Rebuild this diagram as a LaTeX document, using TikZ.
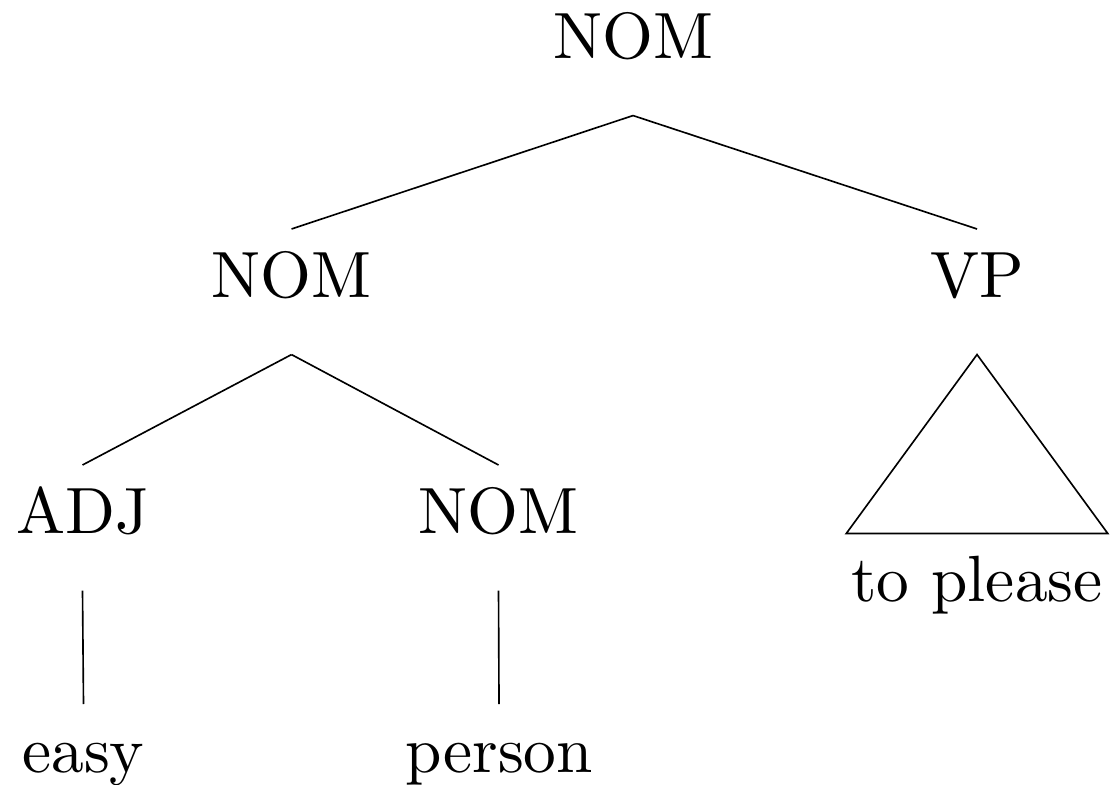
\documentclass[tikz,border=0pt]{standalone}
\begin{document}
\begin{tikzpicture}[x=0.1529pt,y=-0.1529pt,
  lab/.style={anchor=base,inner xsep=0pt,inner ysep=3pt,
    text height=7.2pt,text depth=5.6pt,font=\fontsize{10}{12}\selectfont},
  edge/.style={line width=0.25pt}]
\useasboundingbox (0,0) rectangle (1113,784);
% category labels
\node[lab] (root) at (633,58) {NOM};
\node[lab] (nom1) at (291.5,297) {NOM};
\node[lab] (vp)   at (977,297) {VP};
\node[lab] (adj)  at (82.5,533) {ADJ};
\node[lab] (nom2) at (498.5,533) {NOM};
% words
\node[lab] (easy)   at (83.5,772) {easy};
\node[lab] (person) at (499,772) {person};
\node[lab,inner xsep=0.6pt] (please) at (977,601.5) {to please};
% branches
\draw[edge] (root.south) -- (nom1.north);
\draw[edge] (root.south) -- (vp.north);
\draw[edge] (nom1.south) -- (adj.north);
\draw[edge] (nom1.south) -- (nom2.north);
\draw[edge] (adj.south) -- (easy.north);
\draw[edge] (nom2.south) -- (person.north);
% roof over the unanalysed phrase
\draw[edge] (vp.south) -- (please.north west) -- (please.north east) -- cycle;
\end{tikzpicture}
\end{document}
